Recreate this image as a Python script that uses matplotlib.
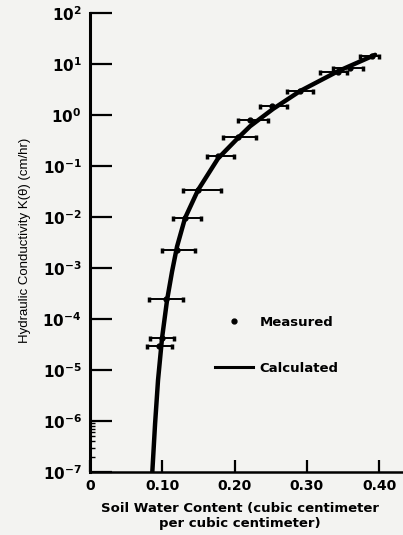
import matplotlib
matplotlib.use("Agg")
import matplotlib.pyplot as plt
from matplotlib.lines import Line2D
from matplotlib.ticker import FixedLocator, NullFormatter

# measured points: water content, conductivity, and the ends of the horizontal bars
theta_meas = [0.390, 0.360, 0.343, 0.291, 0.252, 0.222, 0.205, 0.177, 0.150, 0.132, 0.120, 0.105, 0.100, 0.096]
k_meas = [14.4, 8.4, 7.0, 2.96, 1.50, 0.80, 0.37, 0.157, 0.034, 0.0096, 0.00225, 2.5e-4, 4.2e-5, 3.0e-5]
theta_lo = [0.374, 0.336, 0.318, 0.273, 0.235, 0.205, 0.184, 0.162, 0.129, 0.115, 0.100, 0.082, 0.083, 0.079]
theta_hi = [0.400, 0.378, 0.356, 0.309, 0.273, 0.246, 0.230, 0.199, 0.181, 0.154, 0.145, 0.129, 0.116, 0.114]

# calculated curve (log10 of K)
theta_calc = [0.0862, 0.0900, 0.0941, 0.0997, 0.1066, 0.1135, 0.1204, 0.1315, 0.1495,
              0.1772, 0.2048, 0.2215, 0.2533, 0.2907, 0.3433, 0.3945]
logk_calc = [-7.0, -6.06, -5.20, -4.37, -3.63, -3.07, -2.58, -2.02, -1.47,
             -0.85, -0.45, -0.22, 0.12, 0.47, 0.86, 1.18]

x_ticks = [0, 0.10, 0.20, 0.30, 0.40]
x_labels = ['0', '0.10', '0.20', '0.30', '0.40']
y_exps = [-7, -6, -5, -4, -3, -2, -1, 0, 1, 2]

bg = '#f3f3f1'
fig = plt.figure(figsize=(4.03, 5.35), dpi=100, facecolor=bg)
ax = fig.add_axes([90 / 403, 1 - 472 / 535, 313 / 403, 459 / 535])
ax.set_facecolor(bg)

# Calculated line
k_calc = [10 ** v for v in logk_calc]
ax.plot(theta_calc, k_calc, color='black', lw=3.2, solid_capstyle='round', solid_joinstyle='round')

# Measured with horizontal error bars
xerr = [[t - lo for t, lo in zip(theta_meas, theta_lo)],
        [hi - t for t, hi in zip(theta_meas, theta_hi)]]
ax.errorbar(theta_meas, k_meas, xerr=xerr, fmt='o', color='black', ms=3.5,
            elinewidth=1.4, capsize=1.8, capthick=2.5)

ax.set_yscale('log')
ax.set_xlim(0, 0.433)
ax.set_ylim(1e-7, 1e2)

ax.spines['top'].set_visible(False)
ax.spines['right'].set_visible(False)
ax.spines['left'].set_linewidth(2.2)
ax.spines['bottom'].set_linewidth(1.8)

ax.set_xticks(x_ticks)
ax.set_xticklabels(x_labels, fontfamily='DejaVu Sans', fontweight='bold', fontsize=10)
ax.tick_params(axis='x', direction='in', length=9, width=1.6, pad=5)

plt.rcParams['mathtext.fontset'] = 'stix'
ax.yaxis.set_major_locator(FixedLocator([10.0 ** e for e in y_exps]))
ax.set_yticklabels([r'$\mathbf{10^{%d}}$' % e for e in y_exps], fontsize=11)
ax.yaxis.set_minor_locator(FixedLocator([m * 1e-7 for m in range(2, 10)]))
ax.yaxis.set_minor_formatter(NullFormatter())
ax.tick_params(axis='y', which='major', direction='in', length=16, width=1.6, pad=6)
ax.tick_params(axis='y', which='minor', direction='in', length=3.5, width=1.0)

fig.text(25 / 403, 1 - 240 / 535, 'Hydraulic Conductivity K(θ) (cm/hr)', rotation=90,
         ha='center', va='center', fontsize=9.5, fontfamily='Liberation Sans')
fig.text(240 / 403, 1 - 516 / 535, 'Soil Water Content (cubic centimeter\nper cubic centimeter)',
         ha='center', va='center', fontsize=9.5, fontweight='bold', fontfamily='DejaVu Sans',
         linespacing=1.15)

handles = [Line2D([], [], color='black', marker='o', ms=3.5, ls='none'),
           Line2D([], [], color='black', lw=2.2)]
ax.legend(handles, ['Measured', 'Calculated'], loc='center left',
          bbox_to_anchor=(215 / 403, 1 - 345.5 / 535), bbox_transform=fig.transFigure,
          frameon=False, borderpad=0, borderaxespad=0, handlelength=2.9, handletextpad=0.5,
          labelspacing=2.5, prop={'family': 'DejaVu Sans', 'weight': 'bold', 'size': 9.5})

fig.savefig('out.png', dpi=100, facecolor=bg)
